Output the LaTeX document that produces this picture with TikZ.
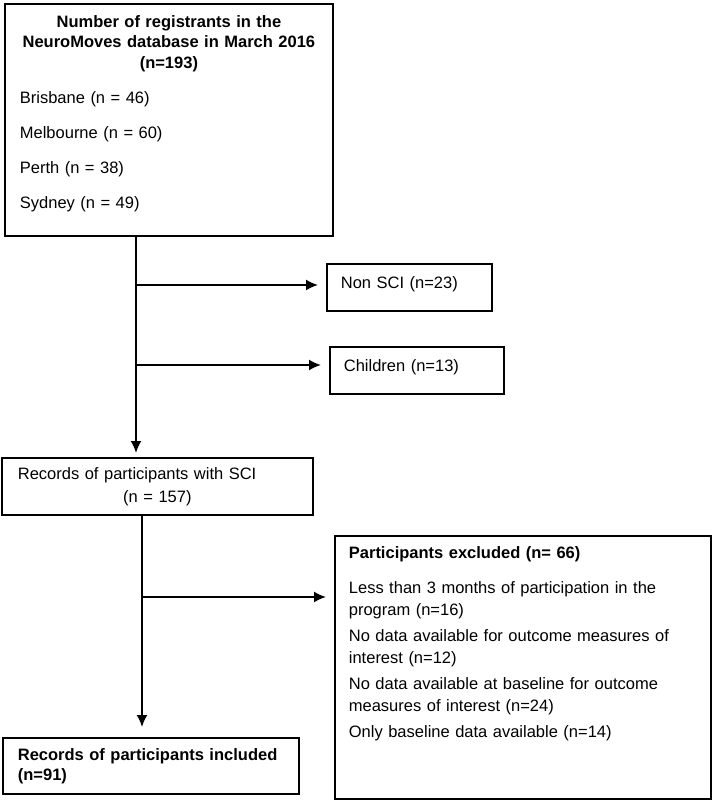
\documentclass[tikz,border=0pt]{standalone}
\usepackage{fontspec}
\setmainfont{Liberation Sans}
\usepackage{tikz}
\usetikzlibrary{arrows.meta,positioning}

\tikzset{
  box/.style={draw,line width=1.8pt,anchor=north west,inner xsep=14pt,
    inner ysep=0pt,align=left,font=\fontsize{16.5}{21}\selectfont},
  flow/.style={->,line width=1.8pt,shorten >=8pt}
}

\begin{document}
\begin{tikzpicture}[x=1pt,y=-1pt,>={Latex[length=12pt,width=11pt]}]
  \useasboundingbox (0,0) rectangle (712,801);
  % boxes
  \node[box,minimum width=328pt,minimum height=232pt,text width=298pt,inner xsep=15pt] (reg) at (4,3)
    {\centering\bfseries Number of registrants in the\\[-0.5pt]NeuroMoves database in March 2016\\[-0.5pt](n=193)\par
     \raggedright\mdseries\vspace{14pt}Brisbane (n = 46)\\[14pt]Melbourne (n = 60)\\[14pt]Perth (n = 38)\\[14pt]Sydney (n = 49)\par\kern13pt};
  \node[box,minimum width=165pt,minimum height=47pt,text width=137pt,text height=12pt,text depth=9pt] (nonsci) at (326,263) {Non SCI (n=23)};
  \node[box,minimum width=174pt,minimum height=47pt,text width=146pt,text height=12pt,text depth=10pt] (kids) at (329,346) {Children (n=13)};
  \node[box,minimum width=311pt,minimum height=57pt,text width=279pt,inner xsep=16pt] (sci) at (1,457)
    {Records of participants with SCI\par\vspace{2pt}\centering (n = 157)\par};
  \node[box,minimum width=376pt,minimum height=263pt,text width=348pt] (excl) at (334,535)
    {\textbf{Participants excluded (n= 66)}\\[14pt]
     Less than 3 months of participation in the\\[1pt]program (n=16)\\[5pt]
     No data available for outcome measures of\\[1pt]interest (n=12)\\[5pt]
     No data available at baseline for outcome\\[1pt]measures of interest (n=24)\\[5pt]
     Only baseline data available (n=14)\par\kern48pt};
  \node[box,minimum width=296pt,minimum height=56pt,text width=266pt,inner xsep=15pt] (incl) at (2,737)
    {\bfseries Records of participants included\\[-1pt](n=91)};
  % connectors
  \coordinate (b1) at (136,285);
  \coordinate (b2) at (136,365);
  \coordinate (b3) at (142,597);
  \draw[flow,shorten >=4pt] (reg.south -| b1) -- (sci.north -| b1);
  \draw[flow] (b1) -- (b1 -| nonsci.west);
  \draw[flow] (b2) -- (b2 -| kids.west);
  \draw[flow,shorten >=10pt] (sci.south -| b3) -- (incl.north -| b3);
  \draw[flow] (b3) -- (b3 -| excl.west);
\end{tikzpicture}
\end{document}
